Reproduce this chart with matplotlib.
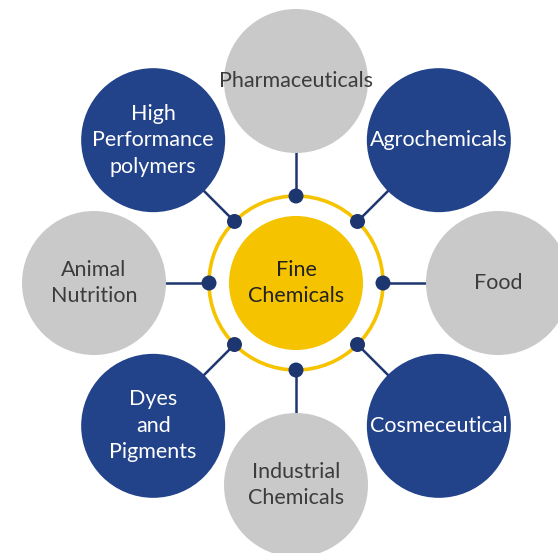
import numpy as np
import matplotlib.pyplot as plt
from matplotlib.patches import Circle

# === Data ===
center_label = "Fine\nChemicals"
labels = [
    "Pharmaceuticals",
    "Agrochemicals",
    "Food",
    "Cosmeceutical",
    "Industrial\nChemicals",
    "Dyes\nand\nPigments",
    "Animal\nNutrition",
    "High\nPerformance\npolymers",
]
kinds = ["grey", "blue", "grey", "blue", "grey", "blue", "grey", "blue"]

# === Style ===
BLUE = "#22428A"
NAVY = "#1E3670"
GREY = "#C9C9C9"
YELLOW = "#F6C300"
fill = {"grey": GREY, "blue": BLUE}
text_col = {"grey": "#3C3C3C", "blue": "white"}
plt.rcParams["font.family"] = ["Lato", "DejaVu Sans"]

W, H = 558, 553
cx, cy = 296, 283
r_core, r_ring, r_out, dist = 67, 87, 72, 202

fig = plt.figure(figsize=(W / 100, H / 100), dpi=100)
ax = fig.add_axes([0, 0, 1, 1])
ax.set_xlim(0, W)
ax.set_ylim(H, 0)
ax.set_aspect("equal")
ax.axis("off")

# ring and core
ax.add_patch(Circle((cx, cy), r_ring, fill=False, ec=YELLOW, lw=2.6, zorder=2))
ax.add_patch(Circle((cx, cy), r_core, fc=YELLOW, ec="none", zorder=2))
ax.text(cx, cy, center_label, ha="center", va="center", fontsize=15.5,
        color="#222222", linespacing=1.4, zorder=5)

# outer nodes, clockwise from top
for i, (lab, kind) in enumerate(zip(labels, kinds)):
    ang = np.deg2rad(90 - 45 * i)
    ux, uy = np.cos(ang), -np.sin(ang)
    ox, oy = cx + dist * ux, cy + dist * uy
    ax.plot([cx + r_ring * ux, ox], [cy + r_ring * uy, oy],
            color=NAVY, lw=1.8, zorder=1, solid_capstyle="butt")
    ax.add_patch(Circle((cx + r_ring * ux, cy + r_ring * uy), 7.5,
                        fc=NAVY, ec="none", zorder=3))
    ax.add_patch(Circle((ox, oy), r_out, fc=fill[kind], ec="none", zorder=2))
    ax.text(ox, oy, lab, ha="center", va="center", fontsize=15.5,
            color=text_col[kind], linespacing=1.4, zorder=5)

fig.savefig("out.png", dpi=100, facecolor="white")
